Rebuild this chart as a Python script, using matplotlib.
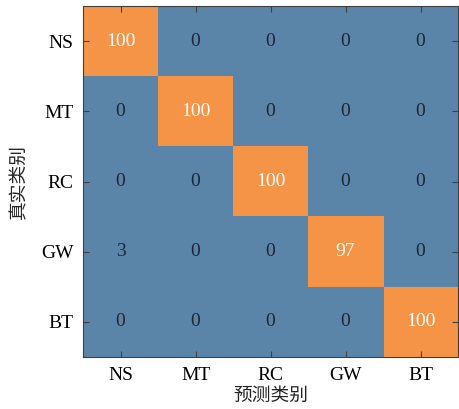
import numpy as np
import matplotlib
matplotlib.use('Agg')
import matplotlib.pyplot as plt
from matplotlib.colors import ListedColormap

plt.rcParams['font.family'] = ['Liberation Serif', 'Noto Sans CJK SC']

classes = ['NS', 'MT', 'RC', 'GW', 'BT']
# rows: true class, cols: predicted class (percent)
cm = np.array([[100, 0, 0, 0, 0],
               [0, 100, 0, 0, 0],
               [0, 0, 100, 0, 0],
               [3, 0, 0, 97, 0],
               [0, 0, 0, 0, 100]])

blue = '#5a84a8'
orange = '#f59346'

fig = plt.figure(figsize=(4.59, 4.09), dpi=100)
ax = fig.add_axes([0.181, 0.127, 0.817, 0.858])

mask = (np.eye(len(classes)) > 0).astype(int)
ax.imshow(mask, cmap=ListedColormap([blue, orange]), aspect='auto',
          interpolation='nearest')

for i in range(len(classes)):
    for j in range(len(classes)):
        c = 'white' if i == j else '#1e2835'
        ax.text(j, i, str(cm[i, j]), ha='center', va='center',
                fontsize=14, color=c)

ax.set_xticks(range(len(classes)))
ax.set_yticks(range(len(classes)))
ax.set_xticklabels(classes, fontsize=14)
ax.set_yticklabels(classes, fontsize=14)
ax.tick_params(direction='in', top=True, right=True, length=4,
               width=0.8, color='#404040', pad=7)
for s in ax.spines.values():
    s.set_color('#404040')
    s.set_linewidth(0.8)

ax.set_xlabel('预测类别', fontsize=13.5, family=['Noto Sans CJK SC'],
              labelpad=1, color='#262626')
ax.set_ylabel('真实类别', fontsize=13.5, family=['Noto Sans CJK SC'],
              labelpad=8, color='#262626')

fig.savefig('out.png', dpi=100)
